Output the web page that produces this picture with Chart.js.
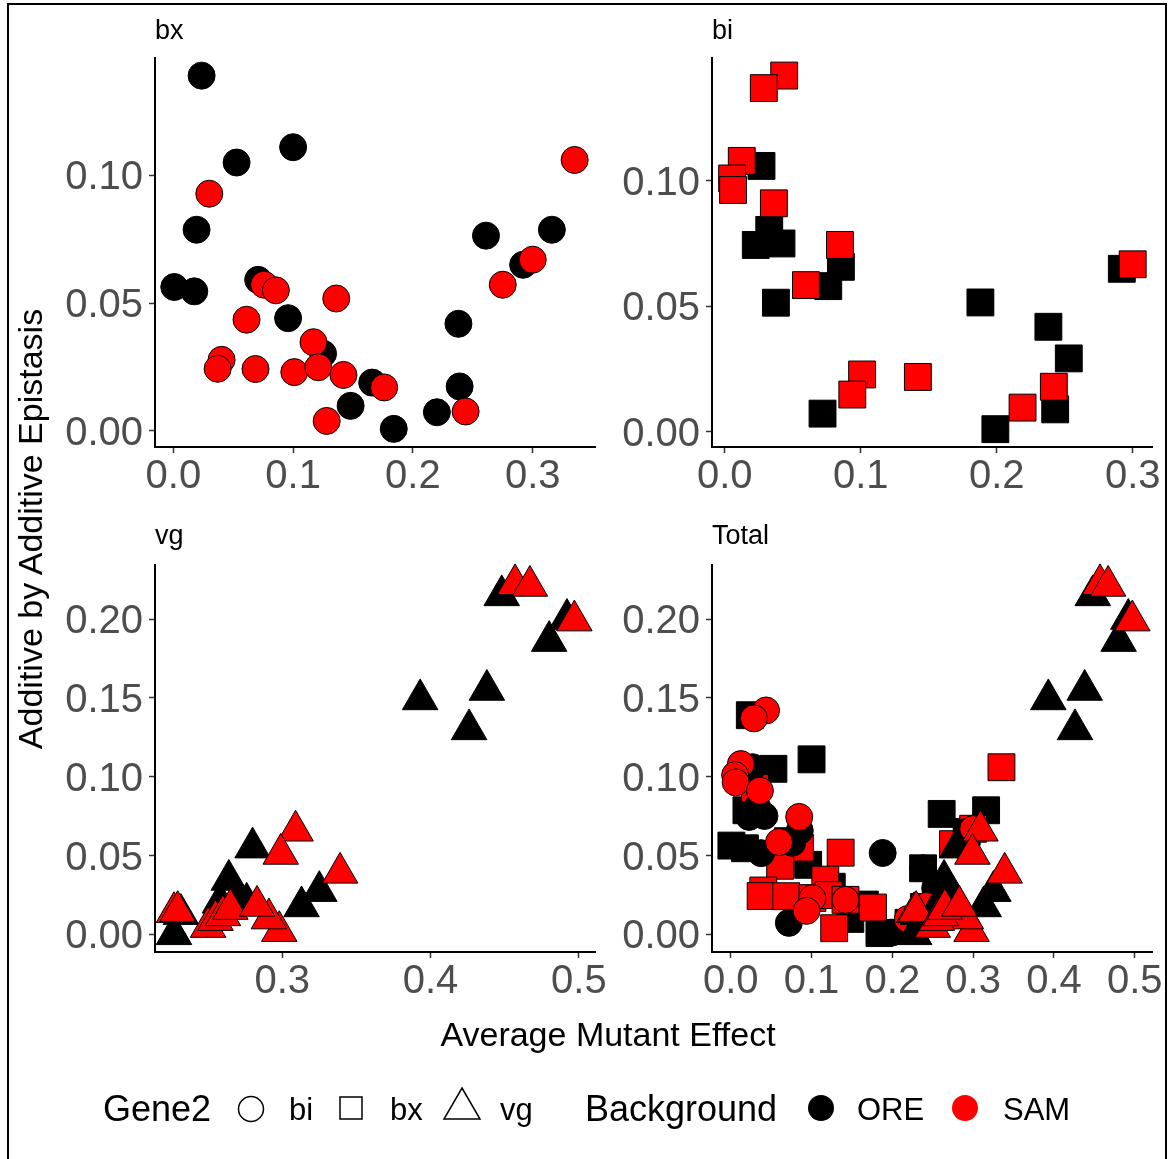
<!DOCTYPE html>
<html>
<head>
<meta charset="utf-8">
<script src="https://cdn.jsdelivr.net/npm/chart.js"></script>
<style>
  body { margin: 0; background: #fff; width: 1171px; height: 1159px; position: relative; overflow: hidden;
         font-family: "Liberation Sans", Arial, Helvetica, sans-serif; color: #000; }
  .frame { position: absolute; left: 7px; top: 3px; width: 1160px; height: 1180px; border: 2px solid #000; box-sizing: border-box; }
  canvas { position: absolute; }
  .strip { position: absolute; font-size: 27px; line-height: 27px; white-space: nowrap; }
  .ytitle { position: absolute; left: 30px; top: 529px; width: 600px; height: 40px; margin-left: -300px; margin-top: -20px;
            line-height: 40px; text-align: center; font-size: 34px; transform: rotate(-90deg); white-space: nowrap; }
  .xtitle { position: absolute; left: 308px; top: 1017px; width: 600px; text-align: center; font-size: 34px; line-height: 34px; }
  .lgt { position: absolute; top: 1091px; font-size: 36px; line-height: 36px; white-space: nowrap; }
  .lgl { position: absolute; top: 1094px; font-size: 31px; line-height: 31px; white-space: nowrap; }
  svg.keys { position: absolute; left: 0; top: 0; }
</style>
</head>
<body>
<div class="frame"></div>

<canvas id="pBx" width="615" height="479" style="left:25px; top:38px"></canvas>
<canvas id="pBi" width="615" height="479" style="left:582px; top:38px"></canvas>
<canvas id="pVg" width="615" height="479" style="left:25px; top:543px"></canvas>
<canvas id="pTot" width="615" height="479" style="left:582px; top:543px"></canvas>

<div class="strip" style="left:155px; top:17px">bx</div>
<div class="strip" style="left:712px; top:17px">bi</div>
<div class="strip" style="left:155px; top:522px">vg</div>
<div class="strip" style="left:712px; top:522px">Total</div>

<div class="ytitle">Additive by Additive Epistasis</div>
<div class="xtitle">Average Mutant Effect</div>

<svg class="keys" width="1171" height="1159">
  <circle cx="251" cy="1109" r="12.5" fill="none" stroke="#000" stroke-width="1.5"/>
  <rect x="340" y="1097" width="22" height="22" fill="none" stroke="#000" stroke-width="1.5"/>
  <polygon points="462,1088 480,1119 444,1119" fill="none" stroke="#000" stroke-width="1.5"/>
  <circle cx="821" cy="1108" r="13" fill="#000"/>
  <circle cx="965" cy="1108" r="13" fill="#ff0000"/>
</svg>
<div class="lgt" style="left:103px">Gene2</div>
<div class="lgl" style="left:289px">bi</div>
<div class="lgl" style="left:390px">bx</div>
<div class="lgl" style="left:500px">vg</div>
<div class="lgt" style="left:585px">Background</div>
<div class="lgl" style="left:857px">ORE</div>
<div class="lgl" style="left:1003px">SAM</div>

<script>
// facet "bx" (partner gene bi, circles)
const bxOreX = [0.0236, 0.100, 0.0528, 0.0194, 0.0008, 0.0175, 0.0708, 0.0958, 0.125, 0.148, 0.166, 0.184, 0.220, 0.239, 0.238, 0.261, 0.292, 0.316];
const bxOreY = [0.139, 0.111, 0.105, 0.0787, 0.0563, 0.0546, 0.0591, 0.0441, 0.0302, 0.0098, 0.0189, 0.0008, 0.0073, 0.0174, 0.0419, 0.0764, 0.065, 0.0787];
const bxSamX = [0.030, 0.335, 0.300, 0.275, 0.0758, 0.0856, 0.136, 0.0611, 0.0403, 0.037, 0.0686, 0.101, 0.117, 0.121, 0.142, 0.176, 0.128, 0.244];
const bxSamY = [0.0928, 0.106, 0.067, 0.0572, 0.0572, 0.055, 0.0518, 0.0435, 0.0278, 0.0243, 0.0242, 0.023, 0.0347, 0.0249, 0.0219, 0.017, 0.0039, 0.0076];

// facet "bi" (partner gene bx, squares)
const biOreX = [0.027, 0.0228, 0.0327, 0.0417, 0.0376, 0.0761, 0.0854, 0.0719, 0.188, 0.238, 0.253, 0.243, 0.199, 0.292];
const biOreY = [0.106, 0.0745, 0.0805, 0.0751, 0.0515, 0.0581, 0.0658, 0.0073, 0.0516, 0.0419, 0.0293, 0.009, 0.0011, 0.065];
const biSamX = [0.0437, 0.0287, 0.0125, 0.0054, 0.0061, 0.0361, 0.0847, 0.0597, 0.101, 0.0938, 0.142, 0.242, 0.219, 0.300];
const biSamY = [0.142, 0.137, 0.108, 0.101, 0.0964, 0.0911, 0.0745, 0.0585, 0.0229, 0.0149, 0.0219, 0.018, 0.0097, 0.0668];

// facet "vg" (triangles)
const vgOreX = [0.393, 0.438, 0.426, 0.448, 0.480, 0.492, 0.280, 0.264, 0.276, 0.313, 0.325, 0.227, 0.2317, 0.258, 0.270];
const vgOreY = [0.149, 0.155, 0.130, 0.215, 0.186, 0.200, 0.055, 0.0345, 0.020, 0.0177, 0.0274, 0.0, 0.0128, 0.020, 0.024];
const vgSamX = [0.457, 0.467, 0.497, 0.309, 0.299, 0.339, 0.227, 0.2295, 0.298, 0.291, 0.250, 0.255, 0.260, 0.265, 0.283];
const vgSamY = [0.222, 0.221, 0.199, 0.0657, 0.051, 0.039, 0.014, 0.0147, 0.002, 0.010, 0.0046, 0.009, 0.012, 0.016, 0.018];

const topYTicks = [0, 0.05, 0.10];
const botYTicks = [0, 0.05, 0.10, 0.15, 0.20];
const bxXTicks = [0, 0.1, 0.2, 0.3];
const biXTicks = [0, 0.1, 0.2, 0.3];
const vgXTicks = [0.3, 0.4, 0.5];
const totXTicks = [0, 0.1, 0.2, 0.3, 0.4, 0.5];

const FONT = '"Liberation Sans", Arial, Helvetica, sans-serif';
const ORE = '#000000';
const SAM = '#ff0000';
const RADIUS = { circle: 13.5, rect: 19, triangle: 20.5 };

Chart.defaults.font.family = FONT;

function pts(xs, ys) {
    return xs.map((x, i) => ({ x: x, y: ys[i] }));
}

function series(xs, ys, shape, fill) {
    return {
        data: pts(xs, ys),
        pointStyle: shape,
        pointRadius: RADIUS[shape],
        pointHoverRadius: RADIUS[shape],
        pointBackgroundColor: fill,
        pointBorderColor: '#000',
        pointBorderWidth: 1,
        showLine: false,
        clip: false,
    };
}

function axis(min, max, ticks, digits, isX) {
    return {
        type: 'linear',
        min: min,
        max: max,
        afterBuildTicks: (s) => { s.ticks = ticks.map(v => ({ value: v })); },
        afterFit: (s) => {
            if (isX) { s.height = 70; } else { s.width = 130; }
            s.paddingLeft = 0; s.paddingRight = 0; s.paddingTop = 0; s.paddingBottom = 0;
        },
        grid: { display: true, drawOnChartArea: false, drawTicks: true, tickLength: 6, tickWidth: 1.5, tickColor: '#333333' },
        border: { display: true, color: '#000', width: 2 },
        ticks: {
            autoSkip: false,
            maxRotation: 0,
            padding: isX ? 0 : 6,
            labelOffset: isX ? 0 : 3,
            color: '#4d4d4d',
            font: { family: FONT, size: 40 },
            callback: (v) => Number(v).toFixed(digits),
        },
    };
}

function panel(id, datasets, xr, xTicks, yr, yTicks) {
    new Chart(document.getElementById(id), {
        type: 'scatter',
        data: { datasets: datasets },
        options: {
            responsive: false,
            animation: false,
            events: [],
            layout: { padding: { top: 20, right: 45, left: 0, bottom: 0 } },
            plugins: { legend: { display: false }, tooltip: { enabled: false }, title: { display: false } },
            scales: {
                x: axis(xr[0], xr[1], xTicks, 1, true),
                y: axis(yr[0], yr[1], yTicks, 2, false),
            },
        },
    });
}

// first dataset is drawn on top
panel('pBx', [
    series(bxSamX, bxSamY, 'circle', SAM),
    series(bxOreX, bxOreY, 'circle', ORE),
], [-0.0153, 0.352], bxXTicks, [-0.0063, 0.1459], topYTicks);

panel('pBi', [
    series(biSamX, biSamY, 'rect', SAM),
    series(biOreX, biOreY, 'rect', ORE),
], [-0.0094, 0.3142], biXTicks, [-0.006, 0.149], topYTicks);

panel('pVg', [
    series(vgSamX, vgSamY, 'triangle', SAM),
    series(vgOreX, vgOreY, 'triangle', ORE),
], [0.2142, 0.5109], vgXTicks, [-0.0112, 0.2346], botYTicks);

// Total: bx rows as squares, bi rows as circles, vg rows as triangles
panel('pTot', [
    series(vgSamX, vgSamY, 'triangle', SAM),
    series(vgOreX, vgOreY, 'triangle', ORE),
    series(biSamX, biSamY, 'circle', SAM),
    series(biOreX, biOreY, 'circle', ORE),
    series(bxSamX, bxSamY, 'rect', SAM),
    series(bxOreX, bxOreY, 'rect', ORE),
], [-0.0232, 0.5213], totXTicks, [-0.0112, 0.2346], botYTicks);
</script>
</body>
</html>
